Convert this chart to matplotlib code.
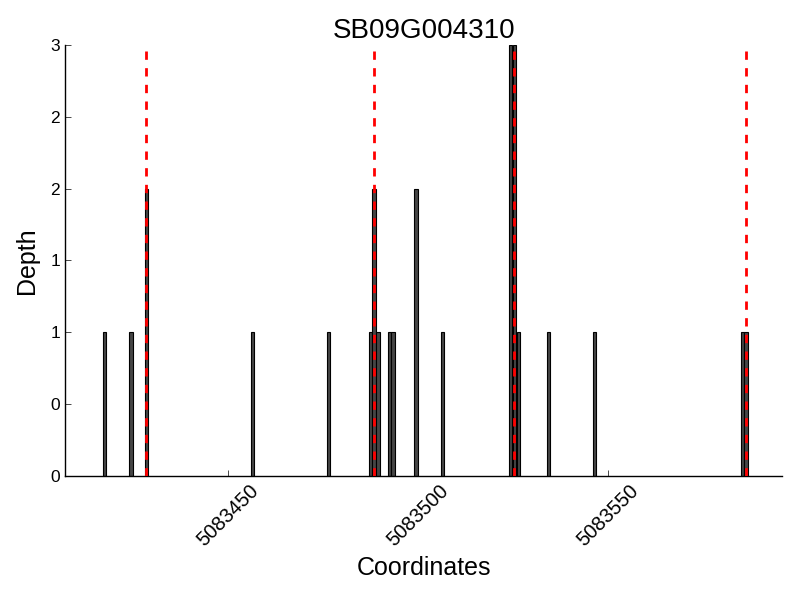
import matplotlib
matplotlib.use("Agg")
import matplotlib.pyplot as plt
from matplotlib.ticker import FormatStrFormatter

# Data
positions = [5083417, 5083424, 5083428, 5083456, 5083476, 5083487, 5083488, 5083489,
             5083492, 5083493, 5083499, 5083506, 5083524, 5083525, 5083526, 5083534,
             5083546, 5083585, 5083586]
depths = [1, 1, 2, 1, 1, 1, 2, 1, 1, 1, 2, 1, 3, 3, 1, 1, 1, 1, 1]
marker_positions = [5083428, 5083488, 5083525, 5083586]
title = "SB09G004310"
x_ticks = [5083450, 5083500, 5083550]
y_ticks = [0, 0.5, 1, 1.5, 2, 2.5, 3]

bar_width = 0.9

plt.rcParams['font.family'] = ['Liberation Sans', 'DejaVu Sans']
plt.rcParams['lines.scale_dashes'] = False

fig = plt.figure(figsize=(8, 6), dpi=100)
ax = fig.add_axes([0.081, 0.207, 0.897, 0.718])

ax.bar(positions, depths, width=bar_width, align='edge', color='#454545',
       edgecolor='black', linewidth=0.8, zorder=1)
for m in marker_positions:
    ax.axvline(m + 0.35, ymin=0, ymax=0.985, color='red', linewidth=2,
               linestyle=(0, (6, 6)), zorder=3)

ax.set_xlim(5083407, 5083596)
ax.set_ylim(0, 3)
ax.set_xticks(x_ticks)
ax.set_xticklabels([str(t) for t in x_ticks], rotation=45, fontsize=14.5)
ax.set_yticks(y_ticks)
ax.yaxis.set_major_formatter(FormatStrFormatter('%d'))
ax.tick_params(axis='y', labelsize=12.5)
ax.tick_params(direction='in', length=4, width=0.5, top=False, right=False)
for s in ['top', 'right']:
    ax.spines[s].set_visible(False)
for s in ['left', 'bottom']:
    ax.spines[s].set_linewidth(1.0)

ax.set_title(title, fontsize=20, pad=5)
ax.set_xlabel('Coordinates', fontsize=18, labelpad=5)
ax.set_ylabel('Depth', fontsize=18, labelpad=8)

fig.savefig('out.png', dpi=100)
